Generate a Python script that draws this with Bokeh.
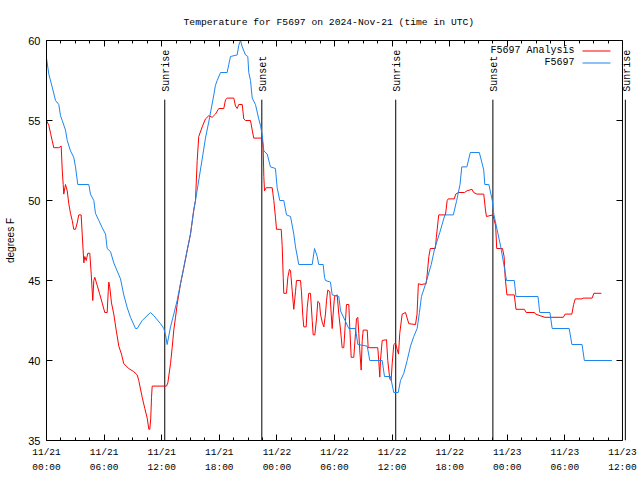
import math
import numpy as np
from bokeh.plotting import figure
from bokeh.core.properties import value
from bokeh.models import (ColumnDataSource, Range1d, LinearAxis, FixedTicker, Label,
                          LabelSet, Whisker, BoxAnnotation, Span)
from bokeh.embed import file_html
from bokeh.resources import INLINE

title_text = "Temperature for F5697 on 2024-Nov-21 (time in UTC)"
y_label = "degrees F"

# hours since 2024-11-21 00:00 UTC
obs_name = "F5697"
obs_hours = [0.0, 0.24, 0.59, 0.94, 1.28, 1.46, 1.64, 1.98, 2.16, 2.5, 2.84, 3.02, 3.26, 4.41,
             4.58, 4.93, 5.1, 5.45, 5.8, 6.15, 6.32, 6.67, 7.01, 7.36, 7.71, 8.05, 8.41, 8.75,
             9.27, 9.45, 9.97, 10.83, 11.18, 11.88, 12.22, 12.4, 12.57, 12.92, 13.26, 13.61,
             13.96, 14.3, 14.66, 15.0, 15.34, 15.52, 16.22, 16.56, 16.9, 17.43, 17.6, 17.78,
             18.13, 18.82, 18.99, 19.17, 19.86, 20.03, 20.21, 20.39, 20.73, 20.97, 21.07,
             21.25, 21.43, 21.77, 22.11, 22.29, 22.47, 22.64, 22.99, 23.33, 23.85, 24.03,
             24.3, 24.72, 25.0, 25.42, 25.76, 25.94, 26.28, 27.68, 27.92, 28.2, 28.36, 28.82,
             28.96, 29.06, 29.58, 29.76, 30.45, 30.63, 31.49, 32.19, 32.43, 33.41, 33.68,
             34.97, 35.21, 35.83, 36.18, 36.64, 36.88, 37.22, 37.57, 37.92, 38.26, 38.61,
             38.85, 39.06, 39.55, 40.08, 40.44, 40.97, 41.5, 42.38, 42.73, 43.08, 43.26,
             43.79, 44.15, 45.09, 45.55, 45.66, 46.08, 46.44, 46.61, 46.97, 47.32, 47.67,
             47.92, 48.73, 48.91, 51.2, 51.38, 52.44, 52.68, 54.45, 54.73, 55.79, 56.03, 58.9]
obs_temp = [58.9, 57.9, 57.1, 56.25, 56.0, 55.3, 55.0, 54.4, 53.75, 53.1, 52.7, 52.1, 51.0, 51.0,
            50.4, 50.0, 49.2, 48.75, 48.3, 47.9, 47.0, 46.8, 46.1, 45.6, 45.1, 44.1, 43.3, 42.7,
            42.0, 42.0, 42.5, 43.0, 42.8, 42.3, 42.0, 41.6, 41.0, 42.1, 42.9, 43.75,
            44.8, 45.8, 46.9, 47.9, 49.4, 50.0, 52.6, 53.9, 54.9, 56.6, 57.2, 57.5,
            58.0, 58.0, 58.5, 59.0, 59.1, 59.7, 60.0, 59.6, 59.1, 59.0, 58.0,
            57.5, 56.4, 56.0, 55.1, 54.7, 54.1, 53.1, 52.9, 52.1, 52.0, 50.8,
            50.0, 50.0, 49.1, 49.0, 47.9, 47.1, 46.0, 46.0, 47.0, 46.5, 46.0, 46.0,
            45.2, 45.0, 44.9, 44.1, 44.0, 43.1, 42.0, 42.0, 41.0, 40.9, 40.0,
            40.0, 39.0, 39.0, 38.0, 38.0, 38.75, 39.2, 40.0, 40.9, 41.5, 42.0,
            43.0, 44.0, 44.9, 46.0, 47.0, 48.0, 49.1, 49.1, 50.0, 51.0, 52.1,
            52.1, 53.0, 53.0, 51.9, 51.0, 51.0, 50.0, 49.1, 48.1, 47.1, 45.9,
            45.0, 45.0, 44.0, 44.0, 43.0, 43.0, 42.0, 42.0, 41.0, 41.0, 40.0, 40.0]

ana_name = "F5697 Analysis"
ana_hours = [0.0, 0.24, 0.42, 0.59, 0.76, 1.28, 1.53, 1.64, 1.74, 1.8, 1.98, 2.16, 2.32, 2.5,
             2.68, 2.84, 3.02, 3.2, 3.36, 3.61, 3.72, 3.89, 3.99, 4.14, 4.3, 4.51, 4.66, 4.82,
             4.93, 5.03, 5.18, 5.28, 5.52, 5.8, 6.07, 6.32, 6.43, 6.49, 6.59, 6.77, 7.01, 7.26,
             7.53, 7.81, 8.05, 8.57, 9.09, 9.45, 9.61, 9.97, 10.24, 10.49, 10.66, 10.76, 10.86,
             10.94, 11.01, 12.32, 12.5, 12.64, 12.92, 13.09, 13.26, 13.44, 13.61, 13.96, 14.3,
             14.66, 15.0, 15.34, 15.52, 15.7, 15.86, 16.22, 16.56, 16.91, 17.26, 17.6, 17.95,
             18.47, 18.65, 18.82, 19.51, 19.69, 19.86, 20.03, 20.39, 20.55, 20.73, 21.25, 21.43,
             21.59, 22.47, 22.57, 22.64, 22.71, 22.89, 23.51, 23.68, 23.85, 23.96, 24.45, 24.55,
             24.66, 24.72, 25.0, 25.14, 25.31, 25.42, 25.59, 25.7, 25.76, 25.94, 26.04, 26.46,
             26.56, 26.7, 26.8, 27.05, 27.16, 27.32, 27.5, 27.68, 27.78, 27.95, 28.13, 28.26,
             28.44, 28.54, 28.72, 28.89, 29.06, 29.17, 29.3, 29.51, 29.66, 29.76, 29.86, 30.0,
             30.28, 30.45, 30.63, 30.8, 30.97, 31.15, 31.25, 31.49, 31.59, 31.74, 32.01, 32.19,
             32.29, 32.43, 32.53, 32.64, 32.78, 32.89, 32.99, 33.41, 33.51, 34.51, 34.61, 34.72,
             34.79, 34.97, 35.42, 35.55, 35.76, 35.9, 36.01, 36.18, 36.35, 36.53, 36.67, 36.8,
             37.05, 37.4, 37.74, 38.44, 38.6, 38.74, 39.03, 39.55, 39.66, 39.83, 39.98, 40.51,
             40.61, 40.86, 41.56, 41.74, 41.85, 42.48, 42.63, 42.91, 43.54, 43.79, 44.32, 44.5,
             44.84, 45.55, 45.73, 45.83, 46.51, 46.79, 46.9, 47.5, 47.67, 47.78, 47.96, 48.73,
             48.91, 49.79, 49.97, 50.84, 50.95, 51.91, 53.84, 54.02, 54.73, 54.91, 55.08, 55.79,
             55.89, 56.84, 57.02, 57.8]
ana_temp = [55.0, 54.7, 54.2, 53.75, 53.3, 53.3, 53.4, 51.9, 51.0, 50.4, 51.0, 50.6, 49.8, 49.2,
            48.75, 48.2, 48.2, 48.6, 49.1, 49.1, 47.9, 46.1, 46.5, 46.25, 46.7, 46.7, 45.4, 43.75,
            45.0, 45.2, 44.9, 44.7, 44.2, 43.6, 43.0, 43.0, 44.3, 44.9, 44.6, 43.6, 42.9, 41.9,
            40.9, 40.4, 39.8, 39.5, 39.3, 39.1, 38.75, 37.7, 37.0, 36.4, 35.7, 35.7, 36.4,
            37.7, 38.4, 38.4, 38.4, 38.6, 39.8, 40.8, 41.9, 42.7, 43.5, 44.8, 45.8,
            46.9, 47.9, 49.4, 50.0, 52.5, 54.0, 54.6, 55.1, 55.3, 55.2, 55.4, 55.75,
            55.75, 56.3, 56.4, 56.4, 55.9, 55.75, 56.0, 56.0, 55.1, 55.0, 55.0, 54.4,
            53.9, 53.9, 53.25, 51.5, 50.6, 50.8, 50.8, 50.0, 48.96, 48.2, 48.2, 47.2,
            45.2, 44.2, 44.2, 45.2, 45.7, 45.6, 44.4, 43.6, 43.2, 44.3, 45.0, 45.0,
            44.3, 42.8, 42.1, 42.1, 43.3, 44.2, 44.2, 42.5, 41.6, 41.6, 42.6, 43.7,
            43.6, 42.9, 42.4, 42.1, 42.9, 43.75, 44.4, 44.3, 42.9, 42.0, 42.9, 44.0,
            44.1, 42.9, 41.9, 40.8, 40.8, 42.5, 43.5, 43.5, 42.1, 40.2, 40.2, 41.7,
            42.6, 42.7, 41.7, 40.6, 39.4, 41.25, 41.9, 41.9, 40.8, 40.8, 40.0, 38.96,
            40.0, 41.25, 41.3, 40.0, 38.85, 38.75, 39.8, 41.0, 41.1, 40.7, 40.4, 41.7,
            42.9, 43.0, 42.3, 42.25, 42.9, 44.8, 44.75, 44.8, 45.4, 46.5, 47.0, 47.0,
            47.7, 49.1, 49.1, 50.0, 50.1, 50.1, 50.4, 50.5, 50.5, 50.6, 50.7, 50.5,
            50.4, 50.4, 49.4, 49.0, 49.1, 48.4, 47.0, 47.0, 46.5, 45.2, 44.1, 44.1,
            43.2, 43.2, 43.0, 43.0, 42.9, 42.7, 42.7, 42.9, 42.9, 43.5, 43.85, 43.85,
            43.9, 43.9, 44.2, 44.2]

event_hours = [12.32, 22.43, 36.38, 46.5, 60.3]
event_names = ["Sunrise", "Sunset", "Sunrise", "Sunset", "Sunrise"]

x_ticks = [0, 6, 12, 18, 24, 30, 36, 42, 48, 54, 60]
x_tick_labels = ["11/21\n00:00", "11/21\n06:00", "11/21\n12:00", "11/21\n18:00",
                 "11/22\n00:00", "11/22\n06:00", "11/22\n12:00", "11/22\n18:00",
                 "11/23\n00:00", "11/23\n06:00", "11/23\n12:00"]
y_ticks = [35, 40, 45, 50, 55, 60]

RED = "#ff0000"
BLUE = "#1c86ee"
MONO = "Liberation Mono"
SANS = "Liberation Sans"

x0, x1 = x_ticks[0], x_ticks[-1]
x_pad = 1.67   # room right of the axes box so the last event label is not clipped

p = figure(width=640, height=480, output_backend="svg", toolbar_location=None,
           x_range=Range1d(x0, x1 + x_pad), y_range=Range1d(y_ticks[0], y_ticks[-1]),
           min_border_left=46, min_border_right=2, min_border_top=40, min_border_bottom=40,
           background_fill_color="white", border_fill_color="white")
p.outline_line_color = None
p.xgrid.visible = False
p.ygrid.visible = False

p.title.text = title_text
p.title.text_font = MONO
p.title.text_font_size = "9.7px"
p.title.text_font_style = "normal"
p.title.text_color = "black"
p.title.align = "left"
p.title.offset = 137
p.title.vertical_align = "middle"
p.title.standoff = 23

minor = list(np.arange(x0, x1 + 0.01, 1.5))
xt = FixedTicker(ticks=x_ticks, minor_ticks=minor)
yt = FixedTicker(ticks=y_ticks, minor_ticks=[])

xa = p.xaxis[0]
xa.ticker = xt
xa.bounds = (x0, x1)
xa.major_label_overrides = {t: l for t, l in zip(x_ticks, x_tick_labels)}
xa.major_label_text_font = MONO
xa.major_label_text_font_size = "9.5px"
xa.major_label_text_line_height = 1.45
xa.major_label_standoff = 6
xa.major_tick_in = 6
xa.major_tick_out = 0
xa.minor_tick_in = 3
xa.minor_tick_out = 0
xa.axis_line_color = "black"
xa.major_label_text_color = "black"

ya = p.yaxis[0]
ya.ticker = yt
ya.major_label_text_font = SANS
ya.major_label_text_font_size = "11px"
ya.major_label_standoff = 6
ya.major_tick_in = 6
ya.major_tick_out = 0
ya.minor_tick_line_color = None
ya.major_label_text_color = "black"
ya.axis_label = y_label
ya.axis_label_text_font = SANS
ya.axis_label_text_font_size = "10px"
ya.axis_label_text_font_style = "normal"
ya.axis_label_text_color = "black"
ya.axis_label_standoff = 9

top = LinearAxis(ticker=xt, bounds=(x0, x1),
                 major_label_overrides={t: "" for t in x_ticks},
                 major_label_text_color=None, major_label_standoff=0,
                 major_tick_in=6, major_tick_out=0, minor_tick_in=3, minor_tick_out=0)
p.add_layout(top, "above")

# right border of the axes box and its inward ticks
p.add_layout(Span(location=x1, dimension="height", line_color="black", line_width=1))
p.ray(x=[x1] * (len(y_ticks) - 2), y=y_ticks[1:-1], length=6, length_units="screen",
      angle=math.pi, line_color="black", line_width=1)

p.line(ana_hours, ana_temp, line_color=RED, line_width=1)
p.line(obs_hours, obs_temp, line_color=BLUE, line_width=1)

ev = ColumnDataSource(dict(x=event_hours, name=event_names))
p.add_layout(Whisker(source=ev, base="x", lower=y_ticks[0], upper=56.3, dimension="height",
                     line_color="black", line_width=1, lower_head=None, upper_head=None))
p.add_layout(LabelSet(source=ev, x="x", y=56.8, text="name", angle=math.pi / 2,
                      text_align="left", text_baseline="middle", x_offset=2,
                      text_font=value(MONO), text_font_size=value("10px"),
                      text_color="black"))

# legend (label on the left, line sample on the right)
for i, (name, col) in enumerate([(ana_name, RED), (obs_name, BLUE)]):
    yy = 390 - 12 * i
    p.add_layout(Label(x=528, y=yy, x_units="screen", y_units="screen", text=name,
                       text_align="right", text_baseline="middle", text_font=MONO,
                       text_font_size="10px", text_color="black"))
    p.add_layout(BoxAnnotation(left=536, right=564, bottom=yy - 1, top=yy,
                               left_units="screen", right_units="screen",
                               bottom_units="screen", top_units="screen",
                               fill_color=col, fill_alpha=1, line_color=None))

open("out.html", "w").write(file_html(p, INLINE))
